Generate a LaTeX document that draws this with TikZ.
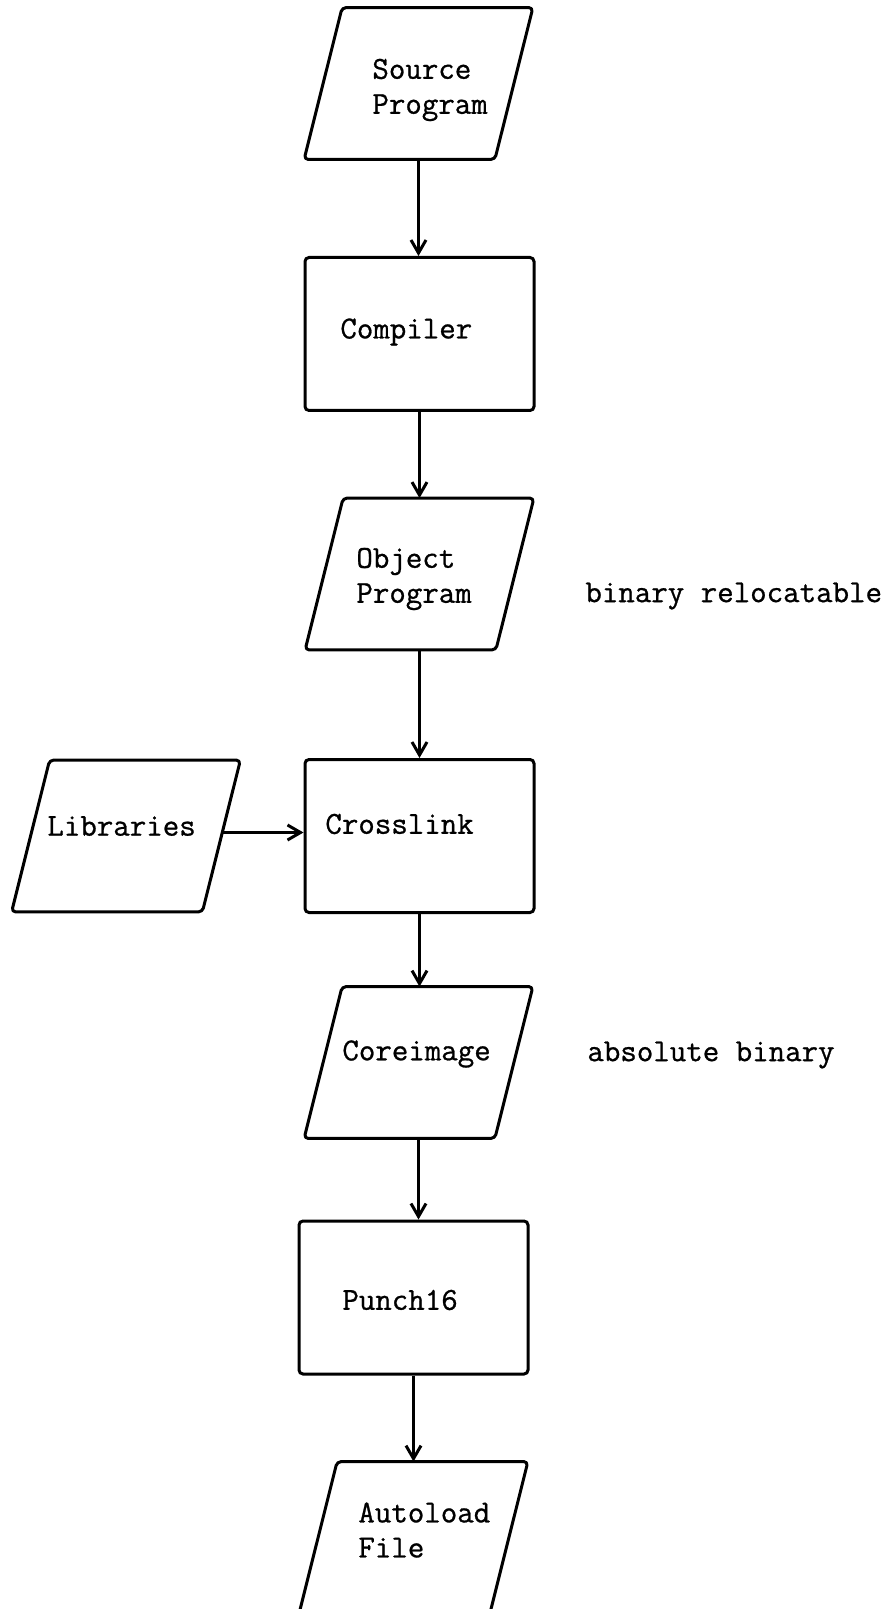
\documentclass[tikz,border=0pt]{standalone}
\usepackage{fontspec}
\newfontfamily\typefont[FakeBold=0.8]{Latin Modern Mono}
\usetikzlibrary{arrows.meta}
\tikzset{
 box/.style={draw, line width=1.5pt, rounded corners=2pt, minimum width=114.5pt, minimum height=76.5pt, inner sep=0pt},
 paraslot/.style={inner sep=0pt, minimum width=95pt, minimum height=75.5pt},
 paraline/.style={line width=1.5pt, rounded corners=2pt, line join=round},
 flow/.style={line width=1.5pt, -{Straight Barb[length=6.5pt,width=7.5pt]}},
 txt/.style={anchor=west, inner sep=0pt, font=\typefont\fontsize{16}{17.5}\selectfont, align=left},
}
\newcommand\drawpara[1]{\draw[paraline] ([xshift=9.5pt]#1.north west) -- ([xshift=9.5pt]#1.north east) -- ([xshift=-9.5pt]#1.south east) -- ([xshift=-9.5pt]#1.south west) -- cycle;}
\begin{document}
\begin{tikzpicture}[x=0.5pt,y=-0.5pt]
\clip (0,0) rectangle (887,1609);
\fill[white] (0,0) rectangle (887,1609);
% shapes
\node[paraslot] (src) at (418.5,83.5) {};
\node[box] (comp) at (419.5,334) {};
\node[paraslot] (obj) at (419.5,574) {};
\node[box] (cross) at (419.5,836) {};
\node[paraslot] (lib) at (126,836) {};
\node[paraslot] (core) at (418.5,1062.5) {};
\node[box] (punch) at (413.5,1297.5) {};
\node[paraslot] (auto) at (413.5,1537.5) {};
\drawpara{src}
\drawpara{obj}
\drawpara{lib}
\drawpara{core}
\drawpara{auto}
% texts
\node[txt] (tsrc) at (372,90) {Source\\Program};
\node[txt] (tcomp) at (340,332) {Compiler};
\node[txt] (tobj) at (356,579) {Object\\Program};
\node[txt] (tcross) at (325,824) {Crosslink};
\node[txt] (tlib) at (47,826) {Libraries};
\node[txt] (tcore) at (342,1054) {Coreimage};
\node[txt] (tpunch) at (342,1300) {Punch16};
\node[txt] (tauto) at (358,1530) {Autoload\\File};
\node[txt] (trel) at (585,596) {binary relocatable};
\node[txt] (tabs) at (587,1055) {absolute binary};
% connectors
\draw[flow] (src.south) -- (src.south |- comp.north);
\draw[flow] (comp.south) -- (comp.south |- obj.north);
\draw[flow] (obj.south) -- (obj.south |- cross.north);
\draw[flow] ([yshift=1.75pt]lib.east) -- ([yshift=1.75pt]lib.east -| cross.west);
\draw[flow] (cross.south) -- (cross.south |- core.north);
\draw[flow] (core.south) -- (core.south |- punch.north);
\draw[flow] (punch.south) -- (punch.south |- auto.north);
\end{tikzpicture}
\end{document}
